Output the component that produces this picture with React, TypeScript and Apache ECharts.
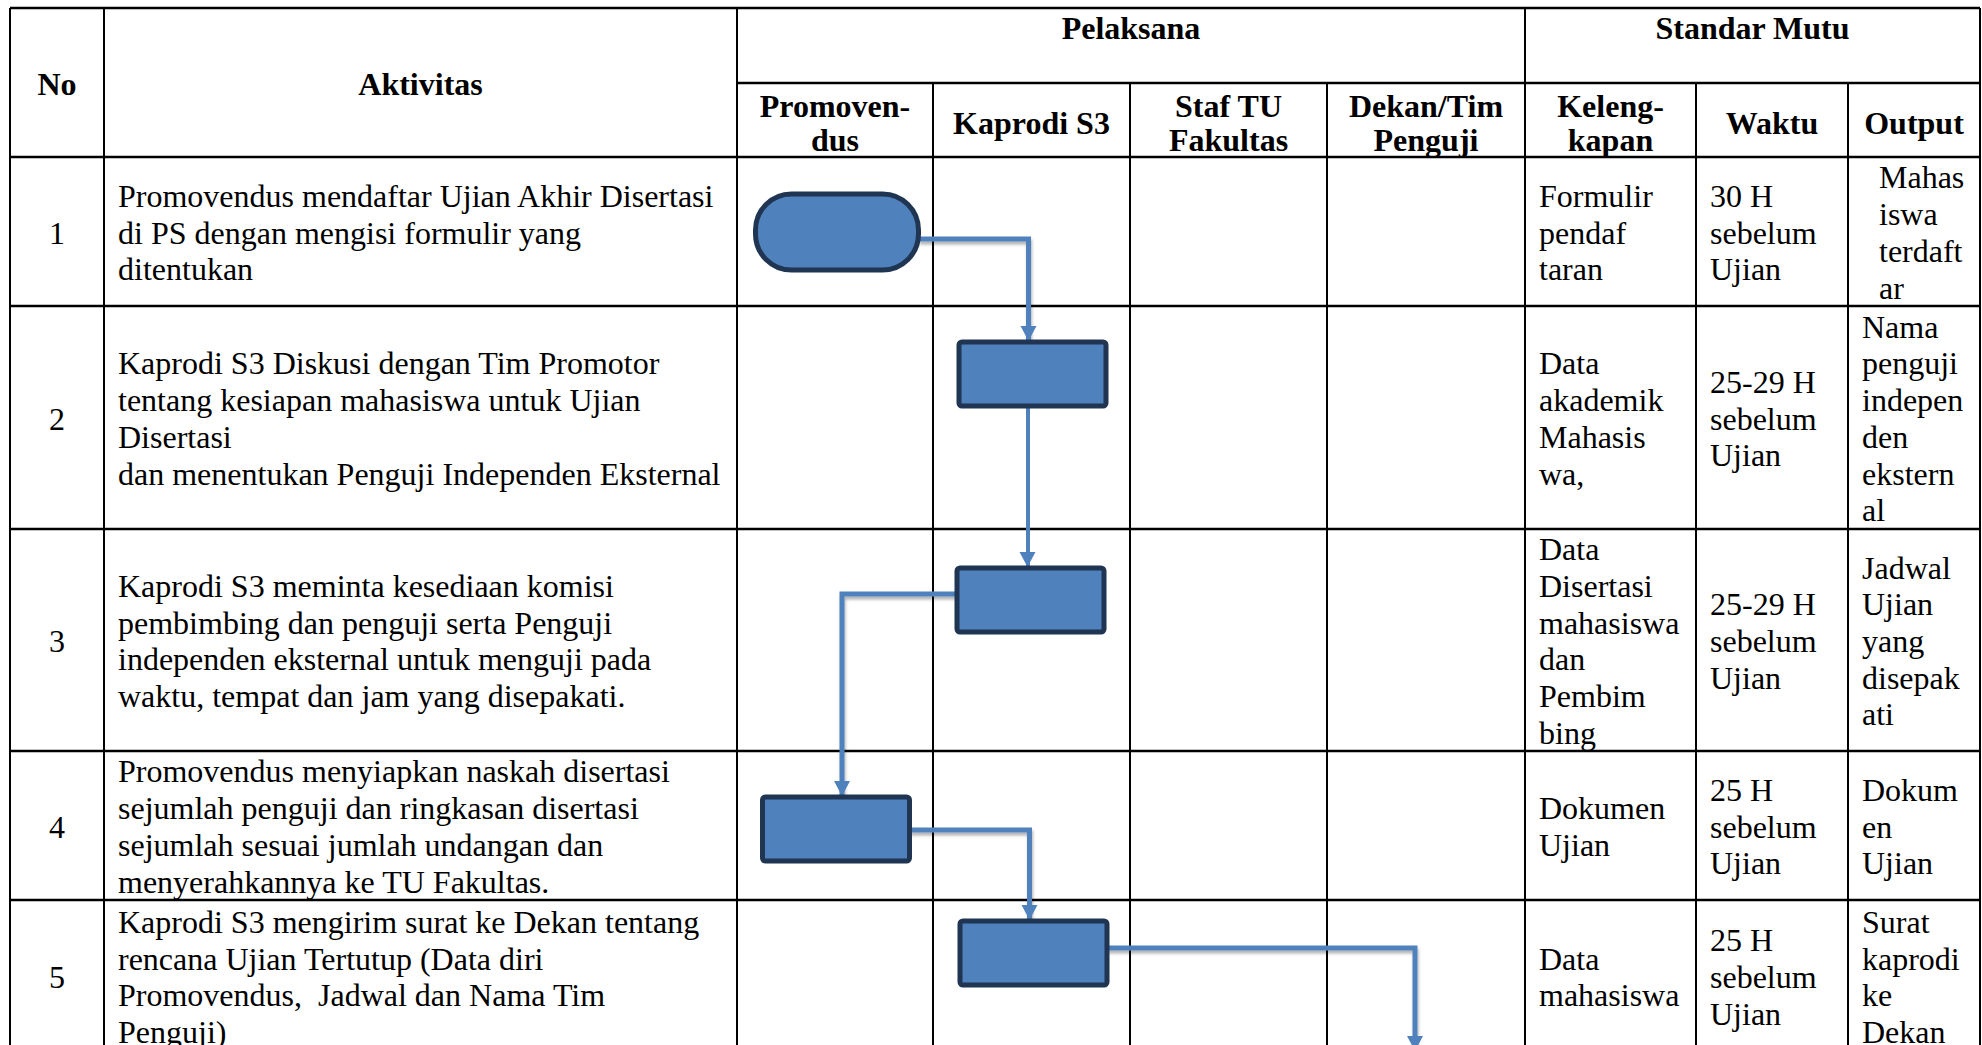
import React, { useEffect, useRef } from "react";
import * as echarts from "echarts";

// ---------- DATA ----------
const topHeaders = ["No", "Aktivitas", "Pelaksana", "Standar Mutu"];
const laneHeaders = [["Promoven-", "dus"], ["Kaprodi S3"], ["Staf TU", "Fakultas"], ["Dekan/Tim", "Penguji"]];
const mutuHeaders = [["Keleng-", "kapan"], ["Waktu"], ["Output"]];
const rowNumbers = ["1", "2", "3", "4", "5"];
const activities = [
  ["Promovendus mendaftar Ujian Akhir Disertasi", "di PS dengan mengisi formulir yang", "ditentukan"],
  ["Kaprodi S3 Diskusi dengan Tim Promotor", "tentang kesiapan mahasiswa untuk Ujian", "Disertasi", "dan menentukan Penguji Independen Eksternal"],
  ["Kaprodi S3 meminta kesediaan komisi", "pembimbing dan penguji serta Penguji", "independen eksternal untuk menguji pada", "waktu, tempat dan jam yang disepakati."],
  ["Promovendus menyiapkan naskah disertasi", "sejumlah penguji dan ringkasan disertasi", "sejumlah sesuai jumlah undangan dan", "menyerahkannya ke TU Fakultas."],
  ["Kaprodi S3 mengirim surat ke Dekan tentang", "rencana Ujian Tertutup (Data diri", "Promovendus,  Jadwal dan Nama Tim", "Penguji)"],
];
const kelengkapan = [
  ["Formulir", "pendaf", "taran"],
  ["Data", "akademik", "Mahasis", "wa,"],
  ["Data", "Disertasi", "mahasiswa", "dan", "Pembim", "bing"],
  ["Dokumen", "Ujian"],
  ["Data", "mahasiswa"],
];
const waktu = [
  ["30 H", "sebelum", "Ujian"],
  ["25-29 H", "sebelum", "Ujian"],
  ["25-29 H", "sebelum", "Ujian"],
  ["25 H", "sebelum", "Ujian"],
  ["25 H", "sebelum", "Ujian"],
];
const output = [
  ["Mahas", "iswa", "terdaft", "ar"],
  ["Nama", "penguji", "indepen", "den", "ekstern", "al"],
  ["Jadwal", "Ujian", "yang", "disepak", "ati"],
  ["Dokum", "en", "Ujian"],
  ["Surat", "kaprodi", "ke", "Dekan"],
];
// flow: lane of each step (0 Promovendus, 1 Kaprodi, 2 Staf TU, 3 Dekan), shape kind
const stepLanes = [0, 1, 1, 0, 1];
const stepKinds = ["terminator", "process", "process", "process", "process"];
const finalLane = 3;

// ---------- LAYOUT ----------
const FONT = "'Liberation Serif', 'Times New Roman', serif";
const colX = [10, 104, 737, 933, 1130, 1327, 1525, 1696, 1848, 1980];
const headTop = 8;
const headMid = 83;
const rowY = [157, 306, 529, 751, 900, 1052];
const boxTopOffset = [37, 36, 39, 46, 21];
const boxOffsetX = [2, 1, -1, 1, 2];
const BLUE = "#4f81bd";
const NAVY = "#1f3552";

export default function App() {
  const ref = useRef<HTMLDivElement>(null);
  useEffect(() => {
    document.body.style.margin = "0";
    document.body.style.overflow = "hidden";
    const chart = echarts.init(ref.current!, undefined, { renderer: "svg" });
    const g: any[] = [];
    const line = (x1: number, y1: number, x2: number, y2: number, w = 2) =>
      g.push({ type: "line", z: 1, shape: { x1, y1, x2, y2 }, style: { stroke: "#000", lineWidth: w } });
    const text = (t: string[], x: number, y: number, opts: any = {}) =>
      g.push({
        type: "text",
        z: 10,
        x,
        y,
        style: {
          text: t.join("\n"),
          fontFamily: FONT,
          fontSize: opts.fontSize || 32,
          fontWeight: opts.bold ? "bold" : "normal",
          fill: "#000",
          align: opts.align || "left",
          verticalAlign: "middle",
          lineHeight: opts.lineHeight || 36.7,
        },
      });

    // table grid
    const bottom = rowY[rowY.length - 1];
    line(colX[0], headTop, colX[9], headTop, 2.5);
    line(colX[2], headMid, colX[9], headMid, 2.5);
    rowY.forEach((y) => line(colX[0], y, colX[9], y, 2.5));
    [0, 1, 2, 6, 9].forEach((i) => line(colX[i], headTop, colX[i], bottom));
    [3, 4, 5, 7, 8].forEach((i) => line(colX[i], headMid, colX[i], bottom));

    // headers
    const cx = (i: number) => (colX[i] + colX[i + 1]) / 2;
    text([topHeaders[0]], cx(0), 84, { bold: true, align: "center" });
    text([topHeaders[1]], cx(1), 84, { bold: true, align: "center" });
    text([topHeaders[2]], (colX[2] + colX[6]) / 2, 28, { bold: true, align: "center" });
    text([topHeaders[3]], (colX[6] + colX[9]) / 2, 28, { bold: true, align: "center" });
    laneHeaders.forEach((h, i) => text(h, cx(2 + i), 123, { bold: true, align: "center", lineHeight: 34 }));
    mutuHeaders.forEach((h, i) => text(h, cx(6 + i), 123, { bold: true, align: "center", lineHeight: 34 }));

    // rows
    rowNumbers.forEach((n, r) => {
      const yc = (rowY[r] + rowY[r + 1]) / 2 + 1;
      text([n], cx(0), yc, { align: "center" });
      text(activities[r], 118, yc);
      text(kelengkapan[r], 1539, yc);
      text(waktu[r], 1710, yc);
      text(output[r], r === 0 ? 1879 : 1862, yc);
    });

    // flowchart boxes
    const boxes = stepLanes.map((lane, r) => {
      const term = stepKinds[r] === "terminator";
      const w = term ? 163 : 147;
      const h = term ? 76 : 64;
      const x = cx(2 + lane) - w / 2 + boxOffsetX[r];
      const y = rowY[r] + boxTopOffset[r];
      g.push({
        type: "rect",
        z: 6,
        shape: { x, y, width: w, height: h, r: term ? 36 : 3 },
        style: { fill: BLUE, stroke: NAVY, lineWidth: 5 },
      });
      return { x, y, w, h, cx: x + w / 2, cy: y + h / 2 };
    });

    const connStyle = {
      stroke: BLUE,
      lineWidth: 5,
      fill: null,
      shadowBlur: 3,
      shadowColor: "rgba(0,0,0,0.3)",
      shadowOffsetX: 1,
      shadowOffsetY: 3,
    };
    const arrowHead = (x: number, tip: number) =>
      g.push({
        type: "polygon",
        z: 5,
        shape: { points: [[x - 8, tip - 15], [x + 8, tip - 15], [x, tip]] },
        style: { fill: BLUE },
      });
    const conn = (pts: number[][]) => {
      g.push({ type: "polyline", z: 4, shape: { points: pts }, style: connStyle });
      const last = pts[pts.length - 1];
      arrowHead(last[0], last[1]);
    };

    for (let r = 0; r < boxes.length; r++) {
      const a = boxes[r];
      if (r + 1 < boxes.length) {
        const b = boxes[r + 1];
        const tx = b.cx - 4;
        if (stepLanes[r + 1] === stepLanes[r]) {
          conn([[a.cx - 4, a.y + a.h], [b.cx - 3, b.y - 1]]);
        } else if (stepLanes[r + 1] > stepLanes[r]) {
          const ey = a.cy + (r === 0 ? 7 : 1);
          conn([[a.x + a.w, ey], [tx, ey], [tx, b.y - 1]]);
        } else {
          const ey = a.cy - 6;
          conn([[a.x, ey], [b.cx + 6, ey], [b.cx + 6, b.y - 1]]);
        }
      } else {
        const ey = a.cy - 5;
        const fx = cx(2 + finalLane) - 11;
        conn([[a.x + a.w, ey], [fx, ey], [fx, 1051]]);
      }
    }

    chart.setOption({ animation: false, graphic: g });
    return () => chart.dispose();
  }, []);
  return <div ref={ref} style={{ width: 1982, height: 1045, background: "#fff" }} />;
}
